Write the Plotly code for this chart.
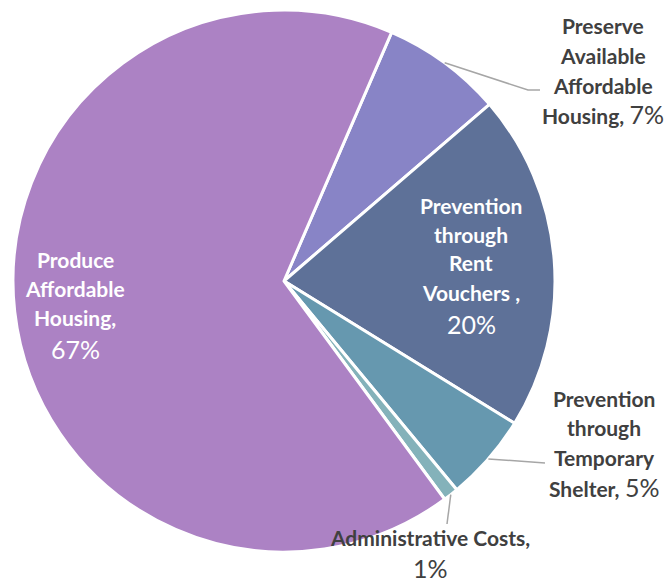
import math
import plotly.graph_objects as go

# ---- data ----
categories = ["Preserve Available Affordable Housing",
              "Prevention through Rent Vouchers ",
              "Prevention through Temporary Shelter",
              "Administrative Costs",
              "Produce Affordable Housing"]
values = [7.2, 20.1, 5.2, 0.9, 66.6]
label_lines = [["Preserve", "Available", "Affordable", "Housing,"],
               ["Prevention", "through", "Rent", "Vouchers ,"],
               ["Prevention", "through", "Temporary", "Shelter,"],
               ["Administrative Costs,"],
               ["Produce", "Affordable", "Housing,"]]
colors = ["#8884C6", "#5E7198", "#6698AF", "#84B2BA", "#AC82C4"]

W, H = 667, 582
ROT = 23.4
# pie pixel box
PX0, PX1, PY0, PY1 = 13, 555, 10, 552
cx, cy = (PX0 + PX1) / 2, (PY0 + PY1) / 2
R = (PX1 - PX0) / 2

def px(x):
    return x / W

def py(y):
    return 1 - y / H

fig = go.Figure(go.Pie(
    labels=categories, values=values, sort=False, direction="clockwise",
    rotation=ROT, textinfo="none", hoverinfo="label+percent",
    marker=dict(colors=colors, line=dict(color="white", width=3)),
    domain=dict(x=[px(PX0), px(PX1)], y=[py(PY1), py(PY0)]),
    showlegend=False,
))

total = sum(values)
pcts = [round(v / total * 100) for v in values]
mids = []
acc = 0
for v in values:
    mids.append(ROT + (acc + v / 2) / total * 360)
    acc += v

def edge(i, rf=1.0):
    a = math.radians(mids[i])
    return cx + R * rf * math.sin(a), cy - R * rf * math.cos(a)

# label layout: (center x, first line center y, line step, color, percent on own line)
label_pos = [(603, 26, 29.5, "#404040", False),
             (471, 205, 29, "white", True),
             (604, 398, 29.5, "#404040", False),
             (430, 537, 28, "#404040", True),
             (75, 259, 29, "white", True)]

ann = []
FAM = "Lato, 'Open Sans', sans-serif"
for i, (x, y0, step, col, own) in enumerate(label_pos):
    lines = list(label_lines[i])
    pct = f"{pcts[i]}%"
    texts = [f"<b>{t}</b>" for t in lines]
    if own:
        texts.append(f"<span style='font-size:25px'>{pct}</span>")
    else:
        texts[-1] = texts[-1] + f" <span style='font-size:25px'>{pct}</span>"
    for k, t in enumerate(texts):
        extra = 3 if (own and k == len(texts) - 1) else 0
        ann.append(dict(x=px(x), y=py(y0 + k * step + extra), xref="paper", yref="paper",
                        text=t, showarrow=False, xanchor="center", yanchor="middle",
                        font=dict(family=FAM, size=21, color=col)))

shapes = []
line_style = dict(color="#A6A6A6", width=1.5)
# Preserve leader
ex, ey = edge(0)
shapes.append(dict(type="path", xref="paper", yref="paper",
                   path=f"M {px(ex)},{py(ey)} L {px(528)},{py(90)} L {px(540)},{py(90)}",
                   line=line_style))
# Temporary shelter leader
ex, ey = edge(2)
shapes.append(dict(type="line", xref="paper", yref="paper",
                   x0=px(ex), y0=py(ey), x1=px(545), y1=py(463), line=line_style))
# Administrative leader
ex, ey = edge(3)
shapes.append(dict(type="line", xref="paper", yref="paper",
                   x0=px(ex), y0=py(ey), x1=px(447), y1=py(524), line=line_style))

fig.update_layout(width=W, height=H, margin=dict(l=0, r=0, t=0, b=0),
                  paper_bgcolor="white", plot_bgcolor="white",
                  annotations=ann, shapes=shapes)
fig.write_html("out.html")
